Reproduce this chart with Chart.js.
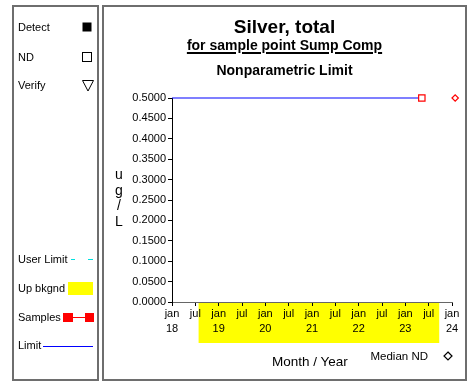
<!DOCTYPE html>
<html>
<head>
<meta charset="utf-8">
<script src="https://cdn.jsdelivr.net/npm/chart.js@4/dist/chart.umd.min.js"></script>
<style>
  html, body { margin: 0; padding: 0; background: #fff; }
  body { width: 474px; height: 384px; position: relative; overflow: hidden;
         font-family: "Liberation Sans", Arial, sans-serif; color: #000; }
  #c { position: absolute; left: 0; top: 0; }
  .box { position: absolute; border: 2px solid #6e6e6e; box-sizing: border-box; }
  .t { position: absolute; white-space: nowrap; }
  .leg { font-size: 11px; line-height: 13px; left: 18px; }
  .ctr { left: 103px; width: 363px; text-align: center; font-weight: bold; }
  .ylab { left: 109px; width: 20px; text-align: center; font-size: 14px; line-height: 15.5px; }
</style>
</head>
<body>
<!-- panel frames -->
<div class="box" style="left:12px;top:5px;width:87px;height:376px"></div>
<div class="box" style="left:102px;top:5px;width:365px;height:376px"></div>

<canvas id="c" width="474" height="384" style="width:474px;height:384px"></canvas>

<!-- key panel -->
<div class="t leg" style="top:20.6px">Detect</div>
<div class="t leg" style="top:50.6px">ND</div>
<div class="t leg" style="top:79px">Verify</div>
<div class="t leg" style="top:252.6px">User Limit</div>
<div class="t leg" style="top:282px">Up bkgnd</div>
<div class="t leg" style="top:311px">Samples</div>
<div class="t leg" style="top:339.4px">Limit</div>
<svg class="t" style="left:0;top:0" width="100" height="384">
  <rect x="82.5" y="22.5" width="9" height="9" fill="#000"/>
  <rect x="82.5" y="52.5" width="9" height="9" fill="#fff" stroke="#000" stroke-width="1"/>
  <path d="M82.5 80.5 L93.5 80.5 L88 91 Z" fill="#fff" stroke="#000" stroke-width="1"/>
  <line x1="71" y1="259.5" x2="75" y2="259.5" stroke="#00e0e0" stroke-width="1"/>
  <line x1="88" y1="259.5" x2="93" y2="259.5" stroke="#00e0e0" stroke-width="1"/>
  <rect x="68" y="282" width="25" height="13" fill="#ffff00"/>
  <line x1="70" y1="317.5" x2="88" y2="317.5" stroke="#ff0000" stroke-width="1"/>
  <rect x="63" y="313" width="10" height="9" fill="#ff0000"/>
  <rect x="85" y="313" width="9" height="9" fill="#ff0000"/>
  <line x1="43" y1="346.5" x2="93" y2="346.5" stroke="#0000ff" stroke-width="1"/>
</svg>

<!-- titles -->
<div class="t ctr" style="top:15.5px;font-size:19px;line-height:22px">Silver, total</div>
<div class="t ctr" style="top:37px;font-size:14px;line-height:16px"><span style="text-decoration:underline;text-underline-offset:2px;text-decoration-thickness:1.5px">for sample point Sump Comp</span></div>
<div class="t ctr" style="top:62px;font-size:14px;line-height:16px">Nonparametric Limit</div>

<!-- axis titles -->
<div class="t ylab" style="top:167px">u</div>
<div class="t ylab" style="top:182.5px">g</div>
<div class="t ylab" style="top:198px">/</div>
<div class="t ylab" style="top:213.5px">L</div>
<div class="t" style="left:272px;top:353.8px;font-size:13.5px;line-height:16px">Month / Year</div>
<div class="t" style="left:370.5px;top:349.6px;font-size:11.5px;line-height:13px">Median ND</div>
<svg class="t" style="left:440px;top:348px" width="16" height="16">
  <path d="M8 4 L12 8 L8 12 L4 8 Z" fill="#fff" stroke="#000" stroke-width="1.2"/>
</svg>

<script>
// Sample results (ND) for Silver, total at Sump Comp
const sampleDates  = ['2023-05-10'];
const sampleValues = [0.5];

// Nonparametric limit
const limitStartDate = '2018-01-01';
const limitValue = 0.5;

// Median of non-detects
const medianNDDate  = '2024-01-26';
const medianNDValue = 0.5;

// Upgradient background period
const upBkgndStart = '2018-07-28';
const upBkgndEnd   = '2023-09-23';

// Axis ranges and tick labels
const xRange = [2018, 2024];
const monthLabels = ['jan', 'jul'];
const yRange = [0, 0.5];
const yStep = 0.05;

// date string -> fractional year
function toYear(d) {
  const t = new Date(d + 'T00:00:00Z');
  const y = t.getUTCFullYear();
  const s = Date.UTC(y, 0, 1), e = Date.UTC(y + 1, 0, 1);
  return y + (t - s) / (e - s);
}

const samplePts = sampleDates.map((d, i) => ({ x: toYear(d), y: sampleValues[i] }));
const lastSample = samplePts[samplePts.length - 1];

const upBkgndBand = {
  id: 'upBkgndBand',
  beforeDraw(chart) {
    const { ctx, chartArea, scales } = chart;
    const x0 = scales.x.getPixelForValue(toYear(upBkgndStart));
    const x1 = scales.x.getPixelForValue(toYear(upBkgndEnd));
    ctx.save();
    ctx.fillStyle = '#ffff00';
    ctx.fillRect(x0, chartArea.bottom + 1, x1 - x0, 40);
    ctx.restore();
  }
};

const tickFont = { family: '"Liberation Sans", Arial, sans-serif', size: 11 };

new Chart(document.getElementById('c'), {
  type: 'line',
  data: {
    datasets: [
      {
        label: 'Limit',
        data: [{ x: toYear(limitStartDate), y: limitValue }, { x: lastSample.x, y: limitValue }],
        borderColor: '#0000ff',
        borderWidth: 1.2,
        pointRadius: 0,
        clip: false,
        order: 3
      },
      {
        label: 'Samples',
        data: samplePts,
        borderColor: '#ff0000',
        backgroundColor: '#ffffff',
        borderWidth: 1,
        pointStyle: 'rect',
        pointRadius: 4.5,
        pointBorderWidth: 1.2,
        clip: false,
        order: 1
      },
      {
        label: 'Median ND',
        data: [{ x: toYear(medianNDDate), y: medianNDValue }],
        borderColor: '#ff0000',
        backgroundColor: '#ffffff',
        showLine: false,
        pointStyle: 'rectRot',
        pointRadius: 3.2,
        pointBorderWidth: 1.2,
        clip: false,
        order: 2
      }
    ]
  },
  options: {
    responsive: false,
    animation: false,
    events: [],
    layout: { padding: { left: 112, right: 22, top: 98, bottom: 42 } },
    plugins: { legend: { display: false }, tooltip: { enabled: false }, title: { display: false } },
    scales: {
      x: {
        type: 'linear',
        min: xRange[0],
        max: xRange[1],
        afterFit: s => { s.height = 40; },
        border: { display: true, color: '#666666', width: 1 },
        grid: { drawOnChartArea: false, drawTicks: true, tickLength: 4, color: '#000000' },
        ticks: {
          stepSize: 0.5,
          autoSkip: false,
          maxRotation: 0,
          padding: 0,
          color: '#000',
          font: Object.assign({}, tickFont, { lineHeight: '15px' }),
          callback: v => {
            const yr = Math.floor(v + 1e-6);
            if (Math.abs(v - yr - 0.5) < 1e-6) return monthLabels[1];
            return [monthLabels[0], String(yr % 100).padStart(2, '0')];
          }
        }
      },
      y: {
        min: yRange[0],
        max: yRange[1],
        afterFit: s => { s.width = 60; },
        border: { display: true, color: '#000000', width: 1 },
        grid: { drawOnChartArea: false, drawTicks: true, tickLength: 4, color: '#000000' },
        ticks: {
          stepSize: yStep,
          padding: 2,
          color: '#000',
          font: tickFont,
          callback: v => Number(v).toFixed(4)
        }
      }
    }
  },
  plugins: [upBkgndBand]
});
</script>
</body>
</html>
